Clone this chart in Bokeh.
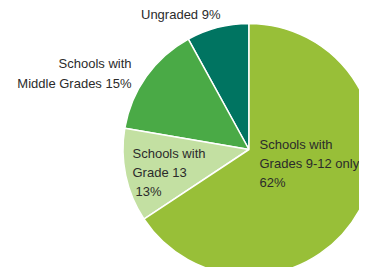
import math
from bokeh.plotting import figure
from bokeh.models import Range1d, ColumnDataSource
from bokeh.core.properties import value
from bokeh.embed import file_html
from bokeh.resources import INLINE

# Data (slice shares as drawn, counter-clockwise from 12 o'clock)
categories = ["Ungraded", "Schools with Middle Grades", "Schools with Grade 13", "Schools with Grades 9-12 only"]
shares = [8.0, 14.3, 12.0, 65.7]
label_pcts = ["9%", "15%", "13%", "62%"]
colors = ["#007461", "#4aaa46", "#c3e0a2", "#98bf38"]

W, H = 359, 267
p = figure(width=W, height=H, output_backend="svg", toolbar_location=None,
           x_range=Range1d(0, W), y_range=Range1d(0, H),
           x_axis_type=None, y_axis_type=None, min_border=0)
p.outline_line_color = None
p.grid.visible = False

cx, cy, r = 248.5, H - 149, 126
total = sum(shares)
starts, ends = [], []
a = math.pi / 2
for s in shares:
    starts.append(a)
    a += 2 * math.pi * s / total
    ends.append(a)
src = ColumnDataSource(dict(start=starts, end=ends, color=colors))
p.wedge(x=cx, y=cy, radius=r, start_angle="start", end_angle="end",
        fill_color="color", line_color="white", line_width=1.5, source=src)

font = value("Liberation Sans")
tc = "#2b2b2b"

def lines(xs, ys, texts, align):
    p.text(x=xs, y=[H - y for y in ys], text=texts, text_font=font,
           text_font_size="13px", text_color=tc, text_align=align,
           text_baseline="middle")

lines([220], [14], [f"{categories[0]} {label_pcts[0]}"], "right")
lines([131, 131], [63, 83], ["Schools with", f"Middle Grades {label_pcts[1]}"], "right")
lines([132, 132, 135], [153, 172, 191], ["Schools with", "Grade 13", label_pcts[2]], "left")
lines([259, 259, 259], [144, 163, 182], ["Schools with", "Grades 9-12 only", label_pcts[3]], "left")

open("out.html", "w").write(file_html(p, INLINE))
